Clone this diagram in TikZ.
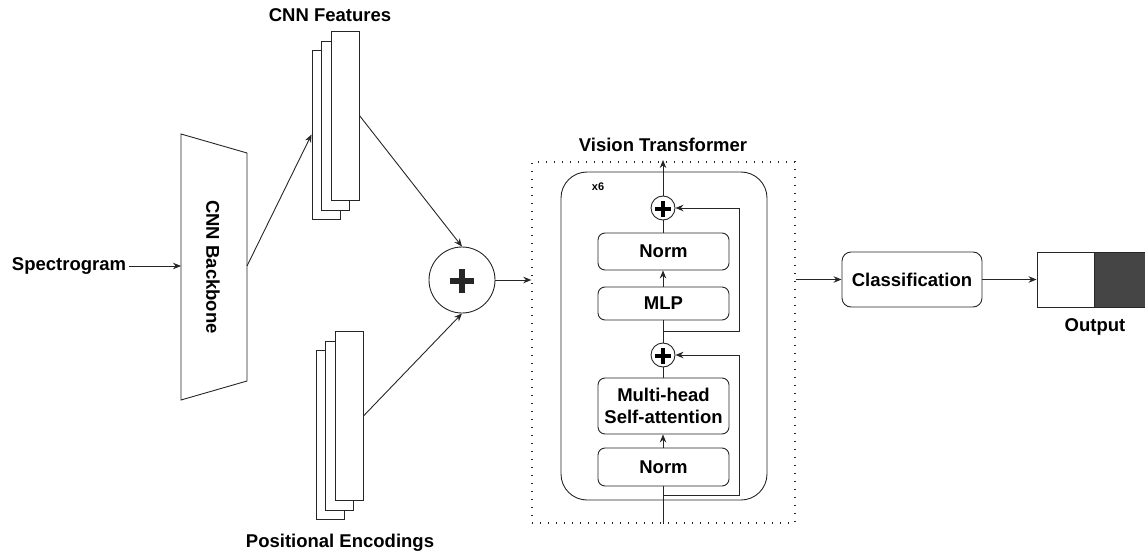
\documentclass[tikz,border=0pt]{standalone}
\usepackage{fontspec}
\setmainfont{Liberation Sans}
\usetikzlibrary{arrows.meta}
\begin{document}
\begin{tikzpicture}[x=1pt,y=-1pt,
  font=\fontsize{18.5}{21}\selectfont\bfseries,
  line width=0.9pt, draw=black!85,
  arr/.style={-{Stealth[length=8pt,width=6.5pt]}},
  box/.style={draw, rounded corners=7pt, minimum width=131pt, align=center, inner sep=0pt},
  sheet/.style={draw, fill=white, minimum width=28pt, minimum height=169pt, inner sep=0pt},
  lbl/.style={inner sep=0pt},
  plusc/.style={circle, draw, fill=white, minimum size=24pt, inner sep=0pt},
  plusbar/.style={line width=4pt, draw=black}]
\useasboundingbox (0,0) rectangle (1145,556);

% input
\node[lbl] (spec) at (69,266) {Spectrogram};
\draw (181,134) -- (247,153) -- (247,381) -- (181,400) -- cycle;
\coordinate (bbin) at (181,266);
\coordinate (bbout) at (247,266);
\node[lbl, rotate=-90] (bbtxt) at (213,267) {CNN Backbone};
\draw[arr, shorten <=2pt] (spec.east) -- (bbin);

% CNN features
\node[sheet] (fback) at (326,134.5) {};
\node[sheet] (fmid) at (335.5,125.5) {};
\node[sheet] (ffront) at (345,115.5) {};
\node[lbl] (flbl) at (330,15) {CNN Features};

% positional encodings
\node[sheet] (pback) at (330,434.5) {};
\node[sheet] (pmid) at (339,425.5) {};
\node[sheet] (pfront) at (349,416) {};
\node[lbl] (plbl) at (340,543) {Positional Encodings};

\draw[arr] (bbout) -- (fback.west);

% sum
\node[circle, draw, minimum size=66pt, inner sep=0pt] (sum) at (462,280) {};
\draw[line width=6.5pt] (450,281) -- (474,281) (462,269) -- (462,293);
\draw[arr] (ffront.east) -- (sum.north);
\draw[arr] (pfront.east) -- (sum.south);

% vision transformer
\node[draw, line width=1.4pt, dash pattern=on 1.4pt off 6.6pt, minimum width=263pt, minimum height=361pt, inner sep=0pt] (vit) at (663.5,342.5) {};
\node[lbl] (vtl) at (663,145) {Vision Transformer};
\node[draw, rounded corners=26pt, minimum width=206pt, minimum height=328pt, inner sep=0pt] (blk) at (664,336) {};
\node[lbl, font=\fontsize{11}{13}\selectfont\bfseries] (x6) at (598,187) {x6};

\node[plusc] (p1) at (663,208) {};
\draw[plusbar] (655,209) -- (671,209) (663,201) -- (663,217);
\node[box, minimum height=37pt] (norm2) at (663.5,251.5) {Norm};
\node[box, minimum height=33pt] (mlp) at (663.5,303.5) {MLP};
\node[plusc] (p2) at (663,355) {};
\draw[plusbar] (655,356) -- (671,356) (663,348) -- (663,364);
\node[box, minimum height=56pt] (mhsa) at (663.5,406) {Multi-head\\[1pt]Self-attention};
\node[box, minimum height=38pt] (norm1) at (663.5,467) {Norm};

\draw (p1.south |- vit.south) -- (p1.south |- norm1.south);
\draw[arr] (p1.south |- norm1.north) -- (p1.south |- mhsa.south);
\draw (p1.south |- mhsa.north) -- (p2.south);
\draw (p2.north) -- (p1.south |- mlp.south);
\draw[arr] (p1.south |- mlp.north) -- (p1.south |- norm2.south);
\draw (p1.south |- norm2.north) -- (p1.south);
\draw[arr] (p1.north) -- (663,160);

\coordinate (sk1) at (663,495);
\coordinate (sk2) at (663,331);
\draw[arr] (sk1) -| (739,355) -- (p2.east);
\draw[arr] (sk2) -| (739,208) -- (p1.east);

\draw[arr] (sum.east) -- (sum.east -| vit.west);

% classification and output
\node[box, minimum width=140pt, minimum height=55pt, rounded corners=9pt] (cls) at (912,279.5) {Classification};
\draw[arr] (cls.west -| vit.east) -- (cls.west);
\node[draw, fill=white, minimum width=57pt, minimum height=55pt, inner sep=0pt] (out1) at (1065.5,279.5) {};
\node[draw, fill=black!73, minimum width=51pt, minimum height=55pt, inner sep=0pt, anchor=west] (out2) at (out1.east) {};
\draw[arr] (cls.east) -- (out1.west);
\node[lbl] (olbl) at (1095,327) {Output};
\end{tikzpicture}
\end{document}
